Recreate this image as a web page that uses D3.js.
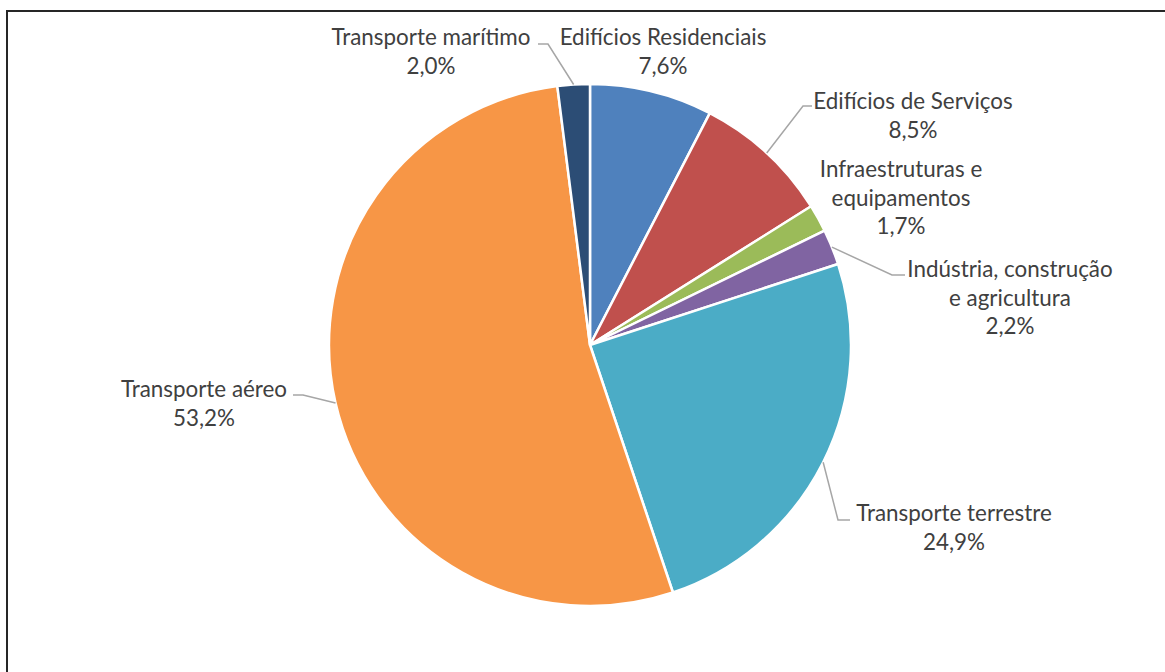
<!DOCTYPE html>
<html><head><meta charset="utf-8">
<script src="https://cdn.jsdelivr.net/npm/d3@7"></script>
<style>
html,body{margin:0;padding:0;background:#fff;}
svg{display:block;}
text{font-family:Lato,"Open Sans",sans-serif;fill:#404040;}
</style></head>
<body>
<script>
// ---- data ----
const categories = ["Edifícios Residenciais","Edifícios de Serviços","Infraestruturas e equipamentos","Indústria, construção e agricultura","Transporte terrestre","Transporte aéreo","Transporte marítimo"];
const values = [7.6, 8.5, 1.7, 2.2, 24.9, 53.2, 2.0];
const labelLines = [
  ["Edifícios Residenciais"],
  ["Edifícios de Serviços"],
  ["Infraestruturas e","equipamentos"],
  ["Indústria, construção","e agricultura"],
  ["Transporte terrestre"],
  ["Transporte aéreo"],
  ["Transporte marítimo"]
];
const colors = ["#4F81BD","#C0504D","#9BBB59","#8064A2","#4BACC6","#F79646","#2C4D75"];

// ---- layout (label placement, not data) ----
const W = 1165, H = 672;
const cx = 590, cy = 345, R = 261;
// text block center x, first baseline y; leader: [elbowX, elbowY, endX] or null
const labelLayout = [
  {x:663, y:45, leader:null},
  {x:913, y:109, leader:[803,106,812]},
  {x:901, y:177, leader:null},
  {x:1010, y:277, leader:[892,275,905]},
  {x:954, y:521, leader:[838,520,850]},
  {x:204, y:397, leader:[303,395,293]},
  {x:431, y:45, leader:[548,44,538]}
];
const lineGap = 28.6;
const fontSize = 22.4;

const svg = d3.select("body").append("svg").attr("width",W).attr("height",H);

// outer frame
svg.append("rect").attr("x",7).attr("y",11).attr("width",W+20).attr("height",H+20)
  .attr("fill","none").attr("stroke","#262626").attr("stroke-width",2);

const pie = d3.pie().sort(null).value(d=>d);
const arcs = pie(values);
const arc = d3.arc().innerRadius(0).outerRadius(R);

const g = svg.append("g").attr("transform",`translate(${cx},${cy})`);
g.selectAll("path.slice").data(arcs).enter().append("path")
  .attr("class","slice")
  .attr("d",arc)
  .attr("fill",(d,i)=>colors[i])
  .attr("stroke","#fff").attr("stroke-width",2.5).attr("stroke-linejoin","round");

const fmt = v => d3.format(".1f")(v).replace(".",",") + "%";

// leader lines
arcs.forEach((d,i)=>{
  const L = labelLayout[i];
  if(!L.leader) return;
  const a = (d.startAngle+d.endAngle)/2;
  const px = cx + R*Math.sin(a), py = cy - R*Math.cos(a);
  svg.append("polyline")
    .attr("points",`${px},${py} ${L.leader[0]},${L.leader[1]} ${L.leader[2]},${L.leader[1]}`)
    .attr("fill","none").attr("stroke","#A6A6A6").attr("stroke-width",1.5);
});

// labels
arcs.forEach((d,i)=>{
  const L = labelLayout[i];
  const lines = labelLines[i].concat([fmt(values[i])]);
  const t = svg.append("text").attr("text-anchor","middle").attr("font-size",fontSize);
  lines.forEach((s,k)=>{
    t.append("tspan").attr("x",L.x).attr("y",L.y + k*lineGap).text(s);
  });
});
</script>
</body></html>
